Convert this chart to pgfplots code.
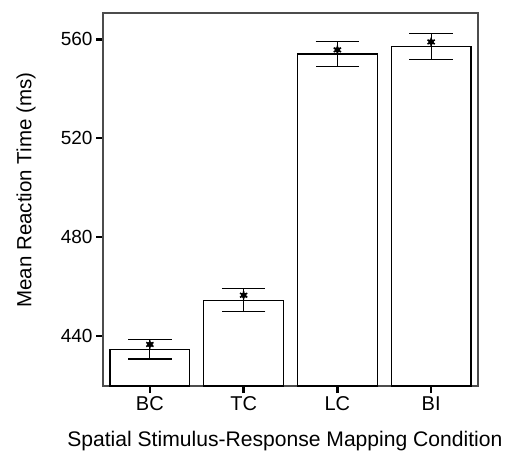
\documentclass[border=0pt]{standalone}
\usepackage{pgfplots}
\pgfplotsset{compat=1.18}
\usepackage{fontspec}
\setmainfont{Liberation Sans}
\begin{document}
\begin{tikzpicture}
\begin{axis}[
  at={(103pt,67pt)}, anchor=south west,
  scale only axis, width=375pt, height=373pt,
  xmin=-0.5, xmax=3.5, ymin=419.8, ymax=570.6,
  xtick={0,1,2,3}, xticklabels={BC,TC,LC,BI},
  ytick={440,480,520,560},
  tick align=outside, xtick pos=bottom, ytick pos=left,
  major tick length=7pt,
  every tick/.style={black, line width=2.6pt},
  axis line style={draw=gray!60!black, line width=1.5pt},
  /pgf/number format/assume math mode=true,
  yticklabel style={font=\fontsize{19}{22}\selectfont},
  xticklabel style={font=\fontsize{20}{24}\selectfont},
  xlabel={Spatial Stimulus-Response Mapping Condition},
  ylabel={Mean Reaction Time (ms)},
  xlabel style={font=\fontsize{21.1}{24}\selectfont, at={(axis description cs:0.485,-0.1627)}, anchor=base},
  ylabel style={font=\fontsize{20.5}{24}\selectfont, at={(axis description cs:-0.205,0.525)}, anchor=center},
  ybar, bar width=0.85, bar shift=0pt,
]
\addplot[fill=white, draw=black, line width=1.2pt,
  error bars/.cd, y dir=both, y explicit,
  error bar style={black, line width=1.1pt},
  error mark options={rotate=90, mark size=21.7pt, line width=1.1pt}]
  coordinates {(0,434.7) +- (0,4.0) (1,454.5) +- (0,4.7) (2,554.0) +- (0,5.2) (3,557.0) +- (0,5.2)};
\addplot[only marks, mark=*, mark size=2.6pt, black]
  coordinates {(0,436.6) (1,456.5) (2,555.7) (3,558.9)};
\addplot[only marks, mark=asterisk, mark size=4.2pt, line width=1.6pt, black]
  coordinates {(0,436.6) (1,456.5) (2,555.7) (3,558.9)};
\end{axis}
\pgfresetboundingbox
\useasboundingbox (0,0) rectangle (510pt,453pt);
\end{tikzpicture}
\end{document}
